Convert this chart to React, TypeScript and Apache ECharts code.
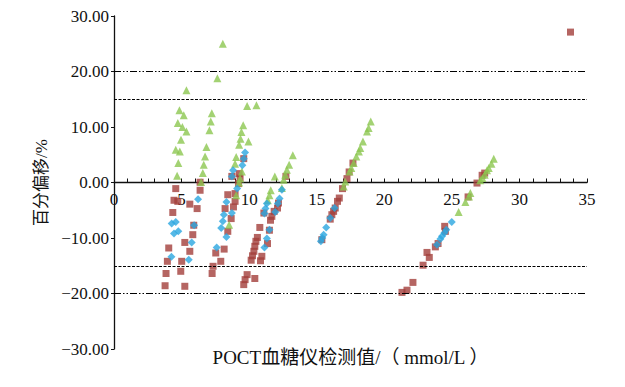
import React, { useEffect, useRef } from "react";
import * as echarts from "echarts";

const xTitle = "POCT血糖仪检测值/（ mmol/L ）";
const yTitle = "百分偏移/%";
const xMin = 0;
const xMax = 35;
const yMin = -30;
const yMax = 30;
const limitOuter = [20, -20];
const limitInner = [15, -15];

const redSquares: number[][] = [
  [4.57, -1.1], [6.37, -1.4], [6.37, 0.05], [8.42, -2.2], [8.72, 1.1], [9.6, 4.3], [9.26, 1.6], [8.96, -2.0],
  [4.44, -3.2], [4.72, -3.4], [5.61, -3.9], [6.15, -4.7], [4.35, -5.4], [5.9, -7.7], [5.83, -9.4], [5.24, -10.8],
  [5.61, -12.4], [4.05, -11.8], [3.95, -14.2], [5.01, -14.2], [3.85, -16.4], [4.94, -16.0], [3.78, -18.6], [5.24, -18.7],
  [8.96, -3.4], [8.84, -4.4], [8.22, -4.7], [8.67, -6.5], [8.42, -8.8], [8.15, -12.0], [7.53, -12.7], [7.9, -14.2],
  [7.33, -15.1], [7.26, -16.4], [10.79, -8.1], [10.61, -9.9], [10.5, -10.6], [10.42, -11.5], [10.35, -12.4], [10.25, -13.2],
  [10.15, -14.0], [10.94, -13.3], [10.84, -14.1], [9.85, -16.6], [9.7, -17.5], [9.6, -18.4], [10.42, -17.3], [11.58, -6.8],
  [11.68, -6.1], [11.5, -8.6], [11.36, -11.0], [11.09, -5.5], [11.85, -5.2], [12.1, -4.6], [12.17, -3.7], [12.72, 1.1],
  [9.33, 0.8], [9.21, -0.2], [17.68, 3.5], [17.4, 1.9], [17.24, 0.7], [16.91, -1.1], [16.67, -2.8], [16.54, -3.4],
  [16.37, -4.6], [16.25, -5.2], [16.12, -5.8], [16.0, -6.6], [15.38, -10.3], [21.31, -19.8], [21.68, -19.4], [22.12, -18.0],
  [22.87, -14.9], [23.16, -12.6], [23.33, -13.5], [23.78, -11.6], [23.98, -11.0], [24.47, -7.9], [24.52, -8.8], [26.2, -2.6],
  [26.86, -0.1], [27.24, 1.3], [27.43, 1.7], [33.78, 27.1],
];

const greenTriangles: number[][] = [
  [8.05, 25.0], [7.65, 18.8], [5.36, 16.6], [9.85, 13.8], [10.54, 13.9], [4.84, 13.0], [5.16, 12.1], [7.24, 12.5],
  [4.72, 10.7], [5.06, 10.0], [5.36, 9.2], [7.16, 11.0], [7.06, 9.4], [9.56, 10.3], [9.43, 9.1], [9.36, 7.9],
  [9.95, 7.4], [9.26, 6.8], [4.96, 7.7], [4.57, 5.9], [4.87, 5.6], [6.84, 6.4], [6.74, 4.7], [6.64, 3.2],
  [6.57, 1.7], [4.76, 3.5], [4.67, 1.2], [9.04, 4.6], [8.96, 3.4], [9.46, 2.0], [9.33, 0.7], [6.44, 0.1],
  [9.26, 0.0], [9.04, -2.3], [8.52, -7.6], [11.9, 1.1], [11.6, -1.4], [11.5, -2.3], [11.38, -3.2], [13.23, 4.9],
  [12.96, 3.2], [12.79, 2.3], [12.67, 1.4], [12.55, 0.5], [12.42, -1.0], [19.0, 11.0], [18.84, 9.8], [18.72, 9.2],
  [18.42, 7.4], [18.22, 6.2], [18.12, 5.6], [17.93, 4.7], [17.73, 3.5], [17.56, 2.6], [17.43, 2.0], [17.11, 0.2],
  [17.0, -0.7], [28.1, 4.3], [27.93, 3.4], [27.73, 2.6], [27.6, 2.2], [27.43, 1.4], [27.26, 0.8], [27.1, 0.4],
  [26.37, -1.9], [26.27, -2.5], [26.0, -3.5], [25.5, -5.3],
];

const blueDiamonds: number[][] = [
  [9.7, 5.4], [9.6, 4.3], [9.5, 3.1], [8.81, 2.2], [8.72, 1.1], [9.11, -1.1], [6.22, -3.0], [4.27, -7.4],
  [4.57, -7.1], [4.76, -8.8], [4.44, -9.2], [5.93, -7.7], [5.75, -10.8], [4.25, -13.4], [5.53, -13.9], [7.6, -11.7],
  [8.32, -9.8], [7.93, -8.2], [8.05, -7.0], [8.13, -5.8], [8.72, -5.5], [8.32, -3.5], [12.42, -1.3], [12.25, -2.9],
  [12.12, -3.8], [11.31, -3.8], [11.21, -4.7], [11.13, -5.6], [11.93, -5.3], [11.5, -8.5], [11.31, -10.1], [11.13, -11.7],
  [16.32, -4.6], [16.0, -6.4], [15.7, -8.1], [15.51, -9.4], [15.41, -10.0], [15.31, -10.6], [24.99, -7.1], [24.59, -8.5],
  [24.44, -9.1], [24.27, -9.7], [24.15, -10.2], [23.9, -11.2],
];

const FONT = "'Liberation Serif', 'Noto Sans CJK SC', serif";

export default function App() {
  const ref = useRef<HTMLDivElement>(null);
  useEffect(() => {
    if (!ref.current) return;
    const chart = echarts.init(ref.current, undefined, { renderer: "svg" });
    const outerStyle = { color: "#000", width: 1, type: [7, 2, 1.5, 2, 1.5, 2] as any };
    const innerStyle = { color: "#000", width: 1, type: [3, 1.5] as any };
    const gridTop = 16;
    const gridBottom = 38;
    const plotH = 387 - gridTop - gridBottom;
    // place the x axis (line, labels, name) at y = 0 of the value axis
    const zeroOffset = -plotH * ((0 - yMin) / (yMax - yMin));
    chart.setOption({
      animation: false,
      backgroundColor: "#fff",
      grid: { left: 114, right: 38, top: gridTop, bottom: gridBottom, containLabel: false, outerBoundsMode: "none" },
      xAxis: {
        type: "value",
        min: xMin,
        max: xMax,
        interval: 1,
        position: "bottom",
        offset: zeroOffset,
        name: xTitle,
        nameLocation: "middle",
        nameGap: 165,
        nameTextStyle: { fontFamily: FONT, fontSize: 19, color: "#111" },
        axisLine: { onZero: false, lineStyle: { color: "#111", width: 1.3 } },
        axisTick: { show: true, inside: true, length: 4, lineStyle: { color: "#111" } },
        axisLabel: {
          margin: 8,
          fontFamily: FONT,
          fontSize: 17,
          color: "#111",
          formatter: (v: number) => (v % 5 === 0 ? String(v) : ""),
        },
        splitLine: { show: false },
      },
      yAxis: {
        type: "value",
        min: yMin,
        max: yMax,
        interval: 10,
        name: yTitle,
        nameLocation: "middle",
        nameGap: 64,
        nameTextStyle: { fontFamily: FONT, fontSize: 17, color: "#111" },
        axisLine: { onZero: false, lineStyle: { color: "#111", width: 1.3 } },
        axisTick: { show: true, inside: false, length: 3, lineStyle: { color: "#111" } },
        axisLabel: {
          margin: 5,
          fontFamily: FONT,
          fontSize: 17,
          color: "#111",
          formatter: (v: number) => v.toFixed(2).replace("-", "−"),
        },
        splitLine: { show: false },
      },
      series: [
        {
          type: "scatter",
          name: "red",
          data: redSquares,
          symbol: "rect",
          symbolSize: 7,
          itemStyle: { color: "#A23E3B" },
          z: 2,
          markLine: {
            silent: true,
            symbol: "none",
            label: { show: false },
            data: [
              { yAxis: limitOuter[0], lineStyle: outerStyle },
              { yAxis: limitOuter[1], lineStyle: outerStyle },
              { yAxis: limitInner[0], lineStyle: innerStyle },
              { yAxis: limitInner[1], lineStyle: innerStyle },
            ],
          },
        },
        {
          type: "scatter",
          name: "green",
          data: greenTriangles,
          symbol: "triangle",
          symbolSize: 8,
          itemStyle: { color: "#8CC750" },
          z: 3,
        },
        {
          type: "scatter",
          name: "blue",
          data: blueDiamonds,
          symbol: "diamond",
          symbolSize: 8,
          itemStyle: { color: "#2BA6E0" },
          z: 4,
        },
      ],
    });
    return () => chart.dispose();
  }, []);
  return <div ref={ref} style={{ width: 625, height: 387, position: "absolute", left: 0, top: 0 }} />;
}
